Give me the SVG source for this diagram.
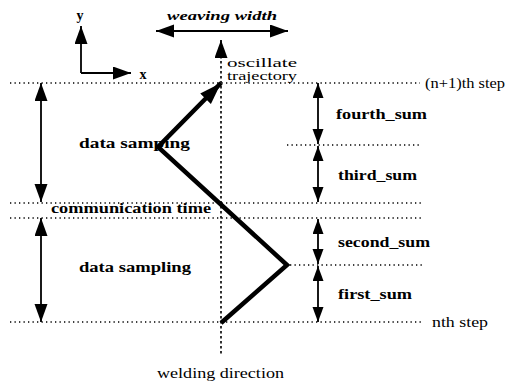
<svg xmlns="http://www.w3.org/2000/svg" width="516" height="392" viewBox="0 0 516 392">
<defs>
<style>
.dot{stroke:#000;stroke-width:1.3;stroke-dasharray:1.3 3.2;fill:none}
.dash{stroke:#000;stroke-width:1.6;stroke-dasharray:2.5 2.5;fill:none}
.ln{stroke:#000;stroke-width:1.8;fill:none}
.traj{stroke:#000;stroke-width:4.5;fill:none;stroke-linejoin:miter}
.b{font-family:"Liberation Serif",serif;font-weight:bold;font-size:14px;fill:#000}
.r{font-family:"Liberation Serif",serif;font-size:14px;fill:#000}
.s{font-family:"Liberation Serif",serif;font-size:12px;fill:#000}
.i{font-family:"Liberation Serif",serif;font-style:italic;font-weight:bold;font-size:13px;fill:#000}
</style>
<marker id="big" markerUnits="userSpaceOnUse" markerWidth="20" markerHeight="14" refX="18" refY="6.5" orient="auto-start-reverse"><path d="M0,0 L18,6.5 L0,13 z" fill="#000"/></marker>
<marker id="sm" markerUnits="userSpaceOnUse" markerWidth="16" markerHeight="12" refX="15" refY="5.5" orient="auto-start-reverse"><path d="M0,0 L15,5.5 L0,11 z" fill="#000"/></marker>
<marker id="th" markerUnits="userSpaceOnUse" markerWidth="24" markerHeight="16" refX="22" refY="7.5" orient="auto"><path d="M0,0 L22,7.5 L0,15 z" fill="#000"/></marker>
</defs>

<g id="guides">
<line class="dot" x1="10" y1="83" x2="420" y2="83"/>
<line class="dot" x1="287" y1="145" x2="422" y2="145"/>
<line class="dot" x1="10" y1="203" x2="421" y2="203"/>
<line class="dot" x1="10" y1="218" x2="421" y2="218"/>
<line class="dot" x1="290" y1="265" x2="422" y2="265"/>
<line class="dot" x1="10" y1="322" x2="422" y2="322"/>
<line class="dash" x1="221" y1="56" x2="221" y2="356"/>
</g>

<g id="connectors">
<line class="ln" x1="81" y1="73" x2="81" y2="26" marker-end="url(#big)"/>
<line class="ln" x1="81" y1="73" x2="131" y2="73" marker-end="url(#big)"/>
<line class="ln" x1="156" y1="31" x2="288" y2="31" marker-start="url(#big)" marker-end="url(#big)"/>
<line class="ln" x1="221" y1="58" x2="221" y2="40" marker-end="url(#big)"/>
<line class="ln" x1="41" y1="83" x2="41" y2="202" marker-start="url(#big)" marker-end="url(#big)"/>
<line class="ln" x1="41" y1="218" x2="41" y2="322" marker-start="url(#big)" marker-end="url(#big)"/>
<line class="ln" x1="318" y1="83" x2="318" y2="144" marker-start="url(#sm)" marker-end="url(#sm)"/>
<line class="ln" x1="318" y1="146" x2="318" y2="202" marker-start="url(#sm)" marker-end="url(#sm)"/>
<line class="ln" x1="318" y1="219" x2="318" y2="264" marker-start="url(#sm)" marker-end="url(#sm)"/>
<line class="ln" x1="318" y1="266" x2="318" y2="322" marker-start="url(#sm)" marker-end="url(#sm)"/>
<polyline class="traj" points="221,323 287,265 158,147 221,83" marker-end="url(#th)"/>
</g>

<g id="labels">
<text class="b" x="80" y="20" text-anchor="middle">y</text>
<text class="b" x="143" y="79" text-anchor="middle">x</text>
<text class="i" x="167" y="20" textLength="110" lengthAdjust="spacingAndGlyphs">weaving width</text>
<text class="s" x="227" y="67" textLength="70" lengthAdjust="spacingAndGlyphs">oscillate</text>
<text class="s" x="227" y="80" textLength="70" lengthAdjust="spacingAndGlyphs">trajectory</text>
<text class="r" x="425" y="88" textLength="80" lengthAdjust="spacingAndGlyphs">(n+1)th step</text>
<text class="r" x="432" y="327" textLength="56" lengthAdjust="spacingAndGlyphs">nth step</text>
<text class="b" x="336" y="119" textLength="91" lengthAdjust="spacingAndGlyphs">fourth_sum</text>
<text class="b" x="338" y="180" textLength="79" lengthAdjust="spacingAndGlyphs">third_sum</text>
<text class="b" x="338" y="247" textLength="92" lengthAdjust="spacingAndGlyphs">second_sum</text>
<text class="b" x="338" y="299" textLength="74" lengthAdjust="spacingAndGlyphs">first_sum</text>
<text class="b" x="79" y="148" textLength="111" lengthAdjust="spacingAndGlyphs">data samping</text>
<text class="b" x="51" y="213" textLength="160" lengthAdjust="spacingAndGlyphs">communication time</text>
<text class="b" x="79" y="272" textLength="112" lengthAdjust="spacingAndGlyphs">data sampling</text>
<text class="r" x="157" y="378" textLength="127" lengthAdjust="spacingAndGlyphs">welding direction</text>
</g>
</svg>
